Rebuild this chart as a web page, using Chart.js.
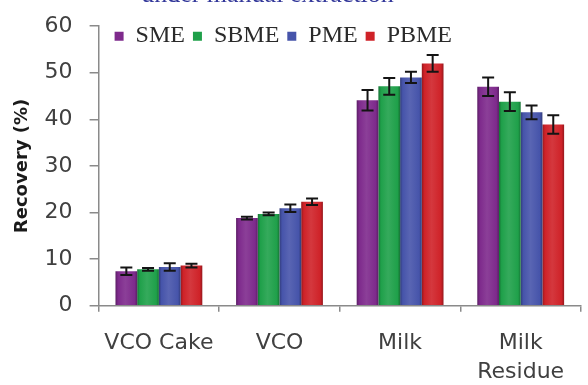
<!DOCTYPE html>
<html>
<head>
<meta charset="utf-8">
<script src="https://cdn.jsdelivr.net/npm/chart.js@4.4.1/dist/chart.umd.min.js"></script>
<style>
  html, body { margin: 0; padding: 0; background: #fff; }
  #frame { position: relative; width: 588px; height: 385px; overflow: hidden; background: #fff; }
  #wrap { position: absolute; left: 0; top: -20px; width: 588px; height: 405px; }
</style>
</head>
<body>
<div id="frame"><div id="wrap"><canvas id="c" width="588" height="405"></canvas></div></div>
<script>
// Recovery (%) of each fraction for the four extraction methods
const categories = ['VCO Cake', 'VCO', 'Milk', ['Milk', 'Residue']];
const seriesNames = ['SME', 'SBME', 'PME', 'PBME'];

const smeValues  = [7.4, 18.8, 44.1, 47.0];
const sbmeValues = [7.8, 19.7, 47.1, 43.8];
const pmeValues  = [8.3, 20.9, 49.0, 41.5];
const pbmeValues = [8.6, 22.3, 52.0, 38.9];

// standard deviations (error bars)
const smeErrors  = [0.8, 0.3, 2.2, 2.0];
const sbmeErrors = [0.3, 0.3, 1.8, 2.0];
const pmeErrors  = [0.8, 0.8, 1.2, 1.5];
const pbmeErrors = [0.4, 0.7, 1.8, 2.0];

const yTicks = [0, 10, 20, 30, 40, 50, 60];

const seriesColors = ['#7e2a8c', '#1fa04a', '#4654aa', '#cf2228'];

function shade(hex, amt) {
  const n = parseInt(hex.slice(1), 16);
  let r = (n >> 16) & 255, g = (n >> 8) & 255, b = n & 255;
  const t = amt < 0 ? 0 : 255, p = Math.abs(amt);
  r = Math.round(r + (t - r) * p); g = Math.round(g + (t - g) * p); b = Math.round(b + (t - b) * p);
  return `rgb(${r},${g},${b})`;
}

// Soft horizontal shading on every bar, built from the bar's own geometry
const barShading = {
  id: 'barShading',
  beforeDatasetsDraw(chart) {
    const ctx = chart.ctx;
    chart.data.datasets.forEach((ds, i) => {
      const meta = chart.getDatasetMeta(i);
      meta.data.forEach(bar => {
        const half = bar.width / 2;
        const g = ctx.createLinearGradient(bar.x - half, 0, bar.x + half, 0);
        g.addColorStop(0, shade(ds.baseColor, -0.28));
        g.addColorStop(0.12, ds.baseColor);
        g.addColorStop(0.45, shade(ds.baseColor, 0.1));
        g.addColorStop(0.88, ds.baseColor);
        g.addColorStop(1, shade(ds.baseColor, -0.28));
        bar.options = Object.assign({}, bar.options, { backgroundColor: g });
      });
    });
  }
};

// Error bars with caps, placed through the value scale
const errorBars = {
  id: 'errorBars',
  afterDatasetsDraw(chart) {
    const ctx = chart.ctx, y = chart.scales.y;
    ctx.save();
    ctx.strokeStyle = '#141414';
    ctx.lineWidth = 2;
    chart.data.datasets.forEach((ds, i) => {
      const meta = chart.getDatasetMeta(i);
      meta.data.forEach((bar, j) => {
        const v = ds.data[j], e = ds.errors[j];
        const yTop = y.getPixelForValue(v + e), yBot = y.getPixelForValue(v - e);
        const cap = 6;
        ctx.beginPath();
        ctx.moveTo(bar.x, yTop); ctx.lineTo(bar.x, yBot);
        ctx.moveTo(bar.x - cap, yTop); ctx.lineTo(bar.x + cap, yTop);
        ctx.moveTo(bar.x - cap, yBot); ctx.lineTo(bar.x + cap, yBot);
        ctx.stroke();
      });
    });
    ctx.restore();
  }
};

// Legend sits inside the top of the plot; heading is shifted left
const boxNudge = {
  id: 'boxNudge',
  afterLayout(chart) {
    const area = chart.chartArea;
    const lg = chart.legend;
    if (lg) {
      lg.left = area.left + 8;
      lg.right = area.right;
      lg.top = area.top - 10;
      lg.bottom = area.top + 40;
      lg.width = lg.right - lg.left;
      lg.height = lg.bottom - lg.top;
    }
    if (chart.titleBlock) { chart.titleBlock.right -= 46; }
  }
};

const valueSets = [smeValues, sbmeValues, pmeValues, pbmeValues];
const errorSets = [smeErrors, sbmeErrors, pmeErrors, pbmeErrors];

new Chart(document.getElementById('c'), {
  type: 'bar',
  data: {
    labels: categories,
    datasets: seriesNames.map((name, i) => ({
      label: name,
      data: valueSets[i],
      errors: errorSets[i],
      baseColor: seriesColors[i],
      backgroundColor: seriesColors[i],
      borderWidth: 0,
      categoryPercentage: 0.72,
      barPercentage: 1.0
    }))
  },
  options: {
    responsive: false,
    animation: false,
    events: [],
    layout: { padding: { left: 0, right: 7, top: 0, bottom: -19 } },
    plugins: {
      title: {
        display: true,
        text: 'under manual extraction',
        color: '#33389a',
        font: { family: 'Liberation Serif', size: 26, weight: 'normal', lineHeight: 1.2 },
        padding: { top: 0, bottom: 14 }
      },
      legend: {
        display: true,
        position: 'top',
        align: 'start',
        maxHeight: 1,
        labels: {
          boxWidth: 9,
          boxHeight: 9,
          padding: 8,
          color: '#2a2a2a',
          font: { family: 'Liberation Serif', size: 24 }
        }
      },
      tooltip: { enabled: false }
    },
    scales: {
      x: {
        grid: { offset: true, drawOnChartArea: false, drawTicks: true, tickLength: 6, color: '#8a8a8a', lineWidth: 1.5 },
        border: { color: '#8a8a8a', width: 1.5 },
        ticks: {
          color: '#404040',
          padding: 18,
          maxRotation: 0,
          autoSkip: false,
          font: { family: 'DejaVu Sans', size: 22, lineHeight: 1.28 }
        }
      },
      y: {
        min: 0,
        max: 60,
        afterBuildTicks(scale) { scale.ticks = yTicks.map(v => ({ value: v })); },
        grid: { drawOnChartArea: false, drawTicks: true, tickLength: 9, color: '#8a8a8a', lineWidth: 1.5 },
        border: { color: '#8a8a8a', width: 1.5 },
        ticks: {
          color: '#404040',
          padding: 17,
          font: { family: 'DejaVu Sans', size: 22 }
        },
        title: {
          display: true,
          text: 'Recovery (%)',
          color: '#1a1a1a',
          font: { family: 'DejaVu Sans', size: 18, weight: 'bold' },
          padding: { top: 12, bottom: -6 }
        }
      }
    }
  },
  plugins: [barShading, errorBars, boxNudge]
});
</script>
</body>
</html>
